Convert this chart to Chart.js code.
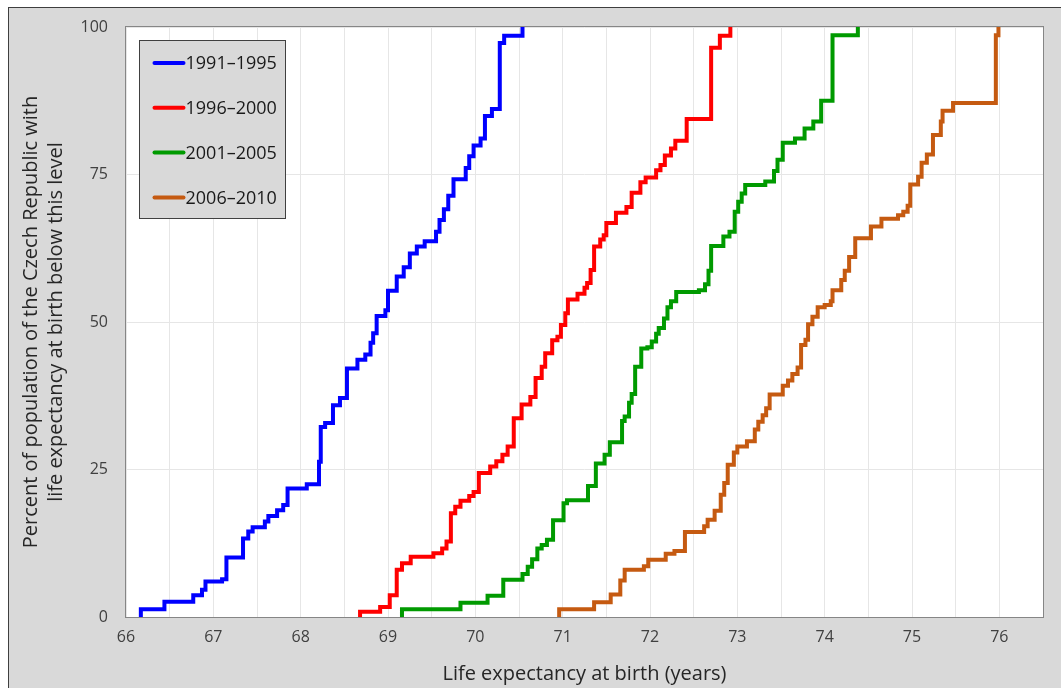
<!DOCTYPE html>
<html>
<head>
<meta charset="utf-8">
<script src="https://cdn.jsdelivr.net/npm/chart.js@4.4.1/dist/chart.umd.min.js"></script>
<style>
  html, body { margin: 0; padding: 0; background: #fff; }
  #frame {
    position: absolute; left: 8px; top: 7px; width: 1052px; height: 680px;
    background: #d9d9d9; border-top: 1px solid #3f3f3f; border-left: 1px solid #3f3f3f;
  }
  canvas { display: block; }
</style>
</head>
<body>
<div id="frame"><canvas id="myChart" width="1052" height="680"></canvas></div>
<script>
// cumulative share of population (%) by life expectancy at birth, step points
const seriesLabels = ["1991–1995", "1996–2000", "2001–2005", "2006–2010"];
const seriesColors = ["#0000ff", "#ff0000", "#009a00", "#c55a11"];

const le9195 = [66.17,66.17,66.44,66.77,66.87,66.91,67.10,67.15,67.34,67.40,67.45,67.59,67.63,67.73,67.80,67.85,68.07,68.21,68.23,68.28,68.37,68.45,68.53,68.65,68.74,68.80,68.83,68.87,68.97,69.00,69.10,69.18,69.25,69.33,69.42,69.55,69.59,69.64,69.69,69.75,69.89,69.93,69.98,70.06,70.11,70.19,70.28,70.33,70.54];
const pct9195 = [0,1.3,2.6,3.7,4.6,6.0,6.4,10.1,13.3,14.5,15.2,16.2,17.1,18.1,19.0,21.8,22.5,26.3,32.2,32.9,35.9,37.1,42.1,43.6,44.5,46.5,48.1,51.0,52.0,55.3,57.7,59.3,61.6,62.8,63.7,65.3,67.3,69.1,71.4,74.2,76.1,78.1,79.9,81.1,84.9,86.1,97.3,98.5,100];

const le9600 = [68.68,68.68,68.91,69.02,69.10,69.16,69.26,69.52,69.62,69.67,69.72,69.77,69.83,69.93,69.98,70.04,70.17,70.24,70.31,70.37,70.44,70.53,70.63,70.69,70.76,70.80,70.88,70.94,70.98,71.03,71.06,71.17,71.25,71.28,71.32,71.36,71.43,71.47,71.50,71.61,71.73,71.79,71.89,71.95,72.07,72.12,72.17,72.24,72.29,72.42,72.70,72.80,72.92];
const pct9600 = [0,0.9,1.7,3.7,8.0,9.1,10.2,10.8,11.6,12.8,17.6,18.7,19.7,20.5,21.2,24.4,25.5,26.4,27.5,28.9,33.7,36.0,37.3,40.5,42.4,44.7,46.9,47.5,49.5,51.5,53.8,54.8,55.8,56.6,58.8,62.8,64.0,64.7,66.8,68.5,69.5,71.9,73.7,74.5,75.7,76.6,78.2,79.4,80.7,84.4,96.5,98.5,100];

const le0105 = [69.16,69.16,69.83,70.14,70.32,70.54,70.60,70.65,70.71,70.76,70.82,70.89,71.01,71.05,71.29,71.38,71.48,71.54,71.68,71.71,71.76,71.79,71.83,71.90,71.97,72.02,72.07,72.10,72.16,72.20,72.24,72.30,72.56,72.63,72.67,72.70,72.84,72.91,72.97,73.01,73.05,73.09,73.32,73.42,73.46,73.52,73.66,73.77,73.87,73.96,74.09,74.38];
const pct0105 = [0,1.3,2.4,3.6,6.3,7.3,8.5,9.8,11.6,12.2,13.1,16.4,19.3,19.8,22.2,26.0,27.5,29.6,33.2,34.0,36.3,37.8,42.4,45.5,45.7,46.7,48.0,49.0,50.6,52.5,53.5,55.1,55.4,56.4,58.7,62.9,64.5,65.3,68.7,70.4,71.8,73.2,73.8,75.6,77.5,80.4,81.1,82.8,84.0,87.5,98.6,100];

const le0610 = [70.96,70.96,71.36,71.55,71.66,71.71,71.93,71.98,72.18,72.28,72.40,72.62,72.66,72.74,72.81,72.85,72.89,72.96,73.00,73.11,73.20,73.24,73.29,73.33,73.37,73.52,73.58,73.63,73.69,73.73,73.78,73.81,73.86,73.92,74.00,74.07,74.09,74.19,74.23,74.28,74.35,74.53,74.65,74.84,74.90,74.95,74.98,75.07,75.11,75.17,75.24,75.33,75.35,75.47,75.96,75.99];
const pct0610 = [0,1.3,2.5,3.8,6.2,8.0,8.6,9.7,10.7,11.2,14.4,15.4,16.5,18.0,20.7,22.7,25.8,27.9,28.9,29.8,31.8,33.1,34.2,35.4,37.7,39.2,40.1,41.2,42.3,46.1,47.0,49.6,50.9,52.5,52.9,53.5,55.4,57.1,58.7,61.0,64.2,66.2,67.5,68.1,68.7,69.7,73.3,74.6,77.0,78.4,81.7,84.0,85.8,87.1,98.6,100];

const yTicks = [0, 25, 50, 75, 100];

const allX = [le9195, le9600, le0105, le0610];
const allY = [pct9195, pct9600, pct0105, pct0610];

function toPoints(xs, ys) {
  return xs.map((x, i) => ({ x: x, y: ys[i] }));
}

const datasets = seriesLabels.map((lbl, i) => ({
  label: lbl,
  data: toPoints(allX[i], allY[i]),
  borderColor: seriesColors[i],
  backgroundColor: seriesColors[i],
  borderWidth: 4,
  stepped: true,
  pointRadius: 0,
  fill: false
}));

const FONT = "'Open Sans', sans-serif";

// white plot area + grey frame
const plotArea = {
  id: "plotArea",
  beforeDraw(chart) {
    const a = chart.chartArea, ctx = chart.ctx;
    ctx.save();
    ctx.fillStyle = "#ffffff";
    ctx.fillRect(a.left, a.top, a.right - a.left, a.bottom - a.top);
    ctx.restore();
  },
  beforeDatasetsDraw(chart) {
    const a = chart.chartArea, ctx = chart.ctx;
    ctx.save();
    ctx.strokeStyle = "#868686";
    ctx.lineWidth = 1;
    ctx.strokeRect(Math.round(a.left) - 0.5, Math.round(a.top) - 0.5, a.right - a.left + 1, a.bottom - a.top + 1);
    ctx.restore();
  }
};

// legend box in the upper left of the plot
const boxLegend = {
  id: "boxLegend",
  afterDraw(chart) {
    const a = chart.chartArea, ctx = chart.ctx;
    const bx = a.left + 13.5, by = a.top + 13.5, bw = 146, bh = 178;
    ctx.save();
    ctx.fillStyle = "#d9d9d9";
    ctx.fillRect(bx, by, bw, bh);
    ctx.strokeStyle = "#404040";
    ctx.lineWidth = 1;
    ctx.strokeRect(bx, by, bw, bh);
    ctx.font = "18px " + FONT;
    ctx.textBaseline = "middle";
    ctx.textAlign = "left";
    chart.data.datasets.forEach((ds, i) => {
      const cy = by + 22.5 + i * 44.8;
      ctx.strokeStyle = ds.borderColor;
      ctx.lineWidth = 4;
      ctx.lineCap = "round";
      ctx.beginPath();
      ctx.moveTo(bx + 15, cy);
      ctx.lineTo(bx + 44, cy);
      ctx.stroke();
      ctx.fillStyle = "#1a1a1a";
      ctx.fillText(ds.label, bx + 46, cy + 1);
    });
    ctx.restore();
  }
};

const ctx = document.getElementById("myChart").getContext("2d");
new Chart(ctx, {
  type: "line",
  data: { datasets: datasets },
  options: {
    responsive: false,
    animation: false,
    layout: { padding: { top: 19, right: 18, left: 0, bottom: 0 } },
    plugins: {
      legend: { display: false },
      tooltip: { enabled: false }
    },
    scales: {
      x: {
        type: "linear",
        min: 66,
        max: 76.5,
        ticks: {
          stepSize: 0.5,
          padding: 0,
          color: "#404040",
          font: { family: FONT, size: 16 },
          maxRotation: 0,
          autoSkip: false,
          callback: (v) => Math.abs(v - Math.round(v)) < 1e-6 ? String(Math.round(v)) : ""
        },
        grid: { color: "#e6e6e6", drawTicks: true, tickLength: 11, tickColor: "rgba(0,0,0,0)" },
        border: { display: false },
        title: {
          display: true,
          text: "Life expectancy at birth (years)",
          color: "#262626",
          font: { family: FONT, size: 20, lineHeight: 1.2 },
          padding: { top: 0, bottom: 2 }
        },
        afterFit: (s) => { s.height = 71; }
      },
      y: {
        min: 0,
        max: 100,
        afterBuildTicks: (s) => { s.ticks = yTicks.map(v => ({ value: v })); },
        ticks: {
          padding: 0,
          color: "#404040",
          font: { family: FONT, size: 16 }
        },
        grid: { color: "#e6e6e6", drawTicks: true, tickLength: 18, tickColor: "rgba(0,0,0,0)" },
        border: { display: false },
        title: {
          display: true,
          text: ["Percent of population of the Czech Republic with", "life expectancy at birth below this level"],
          color: "#262626",
          font: { family: FONT, size: 20, lineHeight: 1.25 },
          padding: { top: 9.5, bottom: 0 }
        },
        afterFit: (s) => { s.width = 117; }
      }
    }
  },
  plugins: [plotArea, boxLegend]
});
</script>
</body>
</html>
